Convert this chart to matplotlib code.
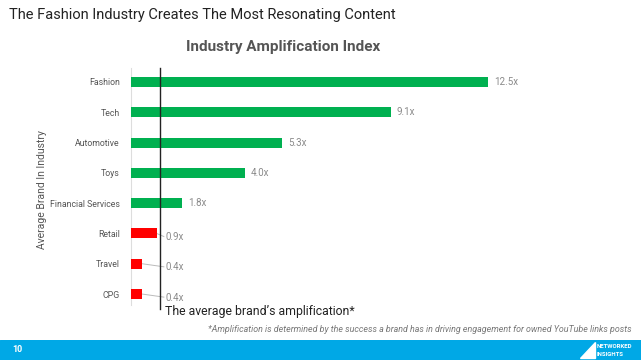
import matplotlib
matplotlib.use("Agg")
import matplotlib.pyplot as plt

plt.rcParams['font.family'] = ['Roboto', 'DejaVu Sans']

categories = ["Fashion", "Tech", "Automotive", "Toys", "Financial Services", "Retail", "Travel", "CPG"]
values = [12.5, 9.1, 5.3, 4.0, 1.8, 0.9, 0.4, 0.4]
labels = ["12.5x", "9.1x", "5.3x", "4.0x", "1.8x", "0.9x", "0.4x", "0.4x"]
average = 1.0

W, H = 641, 360
fig = plt.figure(figsize=(W/100, H/100), dpi=100)
fig.patch.set_facecolor("white")

# axes in pixel geometry
left, right, top, bottom = 131, 631, 68, 305
ax = fig.add_axes([left/W, 1-bottom/H, (right-left)/W, (bottom-top)/H])
ax.set_xlim(0, 17.5)
ax.set_ylim(7.36, -0.46)

colors = ["#00b050" if v > average else "#ff0000" for v in values]
ypos = list(range(len(categories)))
ax.barh(ypos, values, height=0.33, color=colors, zorder=3)

for y, v, lab in zip(ypos, values, labels):
    if v > average:
        ax.text(v + 0.2, y, lab, va="center", ha="left", fontsize=7, color="#8a8a8a")
    else:
        ax.plot([v, 1.15], [y, y + 0.1], color="#bbbbbb", lw=0.7, zorder=2)
        ax.text(1.2, y + 0.12, lab, va="center", ha="left", fontsize=7, color="#8a8a8a")

ax.set_yticks(ypos)
ax.set_yticklabels(categories, fontsize=6.3, color="#555555")
ax.tick_params(axis="y", length=0, pad=8)
ax.set_xticks([])
for s in ["top", "right", "bottom"]:
    ax.spines[s].set_visible(False)
ax.spines["left"].set_color("#dddddd")
ax.spines["left"].set_linewidth(0.8)

# average line
ax.plot([average, average], [-0.46, 7.5], color="#222222", lw=1.0, clip_on=False, zorder=4)

fig.text(42/W, 1-190/H, "Average Brand In Industry", rotation=90, ha="center", va="center",
         fontsize=7.5, color="#555555")

fig.text(9/W, 1-15/H, "The Fashion Industry Creates The Most Resonating Content",
         ha="left", va="center", fontsize=10.5, color="#222222")
fig.text(283/W, 1-47/H, "Industry Amplification Index", ha="center", va="center",
         fontsize=11, fontweight="bold", color="#555555")
fig.text(165/W, 1-311/H, "The average brand\u2019s amplification*", ha="left", va="center",
         fontsize=8.8, color="#222222")
fig.text(632/W, 1-330/H,
         "*Amplification is determined by the success a brand has in driving engagement for owned YouTube links posts",
         ha="right", va="center", fontsize=6.4, style="italic", color="#777777")

# footer band
band = fig.add_axes([0, 0, 1, 20/H])
band.set_xlim(0, 1); band.set_ylim(0, 1)
band.axis("off")
band.add_patch(plt.Rectangle((0, 0), 1, 1, color="#00a8e6", transform=band.transAxes))
band.text(12/W, 0.5, "10", color="white", fontsize=6.5, fontweight="bold", va="center", ha="left")
band.text(597/W, 0.7, "NETWORKED", color="white", fontsize=4.3, fontweight="bold", va="center", ha="left")
band.text(597/W, 0.3, "INSIGHTS", color="white", fontsize=4.3, fontweight="bold", va="center", ha="left")
band.fill([580/W, 595/W, 595/W], [0.1, 0.1, 0.9], color="white")

fig.savefig("out.png", dpi=100)
